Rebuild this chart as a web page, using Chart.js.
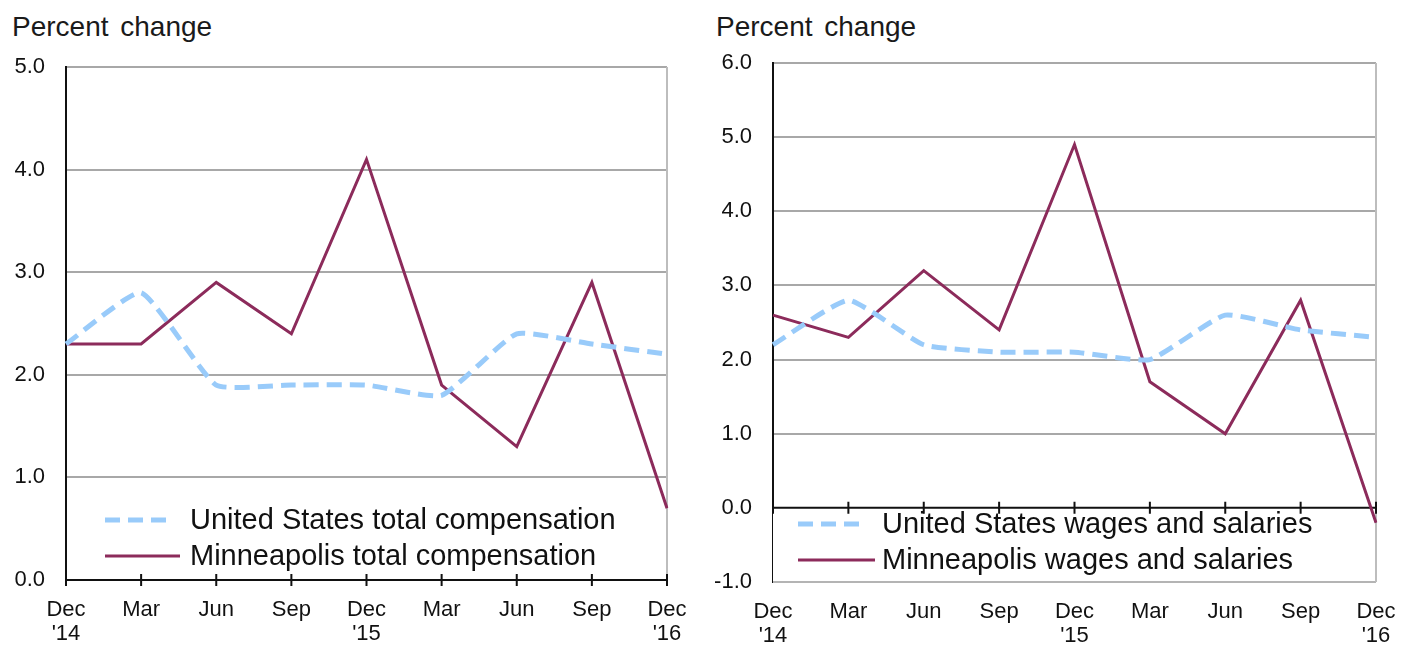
<!DOCTYPE html>
<html>
<head>
<meta charset="utf-8">
<script src="https://cdn.jsdelivr.net/npm/chart.js@4.4.0/dist/chart.umd.min.js"></script>
<style>
  body { margin: 0; background: #fff; width: 1403px; height: 645px; overflow: hidden; position: relative;
         font-family: "Liberation Sans", Arial, sans-serif; }
  .unit { position: absolute; top: 13px; font-size: 28px; line-height: 28px; word-spacing: 4px; color: #1a1a1a; white-space: nowrap; }
  .box { position: absolute; top: 0; height: 645px; }
</style>
</head>
<body>
<div class="unit" style="left:12px">Percent change</div>
<div class="unit" style="left:716px">Percent change</div>
<div class="box" style="left:0;width:700px"><canvas id="leftChart"></canvas></div>
<div class="box" style="left:700px;width:703px"><canvas id="rightChart"></canvas></div>

<script>
  // quarters, Dec 2014 - Dec 2016
  const categories = [['Dec', "'14"], 'Mar', 'Jun', 'Sep', ['Dec', "'15"], 'Mar', 'Jun', 'Sep', ['Dec', "'16"]];

  // 12-month percent change, total compensation
  const usTotalComp = [2.3, 2.8, 1.9, 1.9, 1.9, 1.8, 2.4, 2.3, 2.2];
  const mplsTotalComp = [2.3, 2.3, 2.9, 2.4, 4.1, 1.9, 1.3, 2.9, 0.7];

  // 12-month percent change, wages and salaries
  const usWages = [2.2, 2.8, 2.2, 2.1, 2.1, 2.0, 2.6, 2.4, 2.3];
  const mplsWages = [2.6, 2.3, 3.2, 2.4, 4.9, 1.7, 1.0, 2.8, -0.2];

  const leftTicks = [0, 1, 2, 3, 4, 5];
  const rightTicks = [-1, 0, 1, 2, 3, 4, 5, 6];

  const leftNames = ['United States total compensation', 'Minneapolis total compensation'];
  const rightNames = ['United States wages and salaries', 'Minneapolis wages and salaries'];

  const FONT = '"Liberation Sans", Arial, sans-serif';
  const US_BLUE = '#99cbfa';
  const MPLS_RED = '#8c2b5b';

  // black axis line at value 0 with tick marks crossing it, plus the grey right edge
  const zeroAxis = {
    id: 'zeroAxis',
    beforeDatasetsDraw(chart, args, opts) {
      const ctx = chart.ctx;
      const area = chart.chartArea;
      const x = chart.scales.x, y = chart.scales.y;
      const y0 = y.getPixelForValue(0);
      ctx.save();

      // optional legend box below the zero line
      if (opts.legendBox) {
        ctx.fillStyle = '#fff';
        ctx.fillRect(area.left, y0, area.right - area.left, area.bottom - y0);
        ctx.strokeStyle = '#b4b4b4';
        ctx.lineWidth = 2;
        ctx.beginPath();
        ctx.moveTo(area.left, area.bottom);
        ctx.lineTo(area.right, area.bottom);
        ctx.stroke();
      }

      // right frame
      ctx.strokeStyle = '#bdbdbd';
      ctx.lineWidth = 2;
      ctx.beginPath();
      ctx.moveTo(area.right, area.top);
      ctx.lineTo(area.right, area.bottom);
      ctx.stroke();

      ctx.strokeStyle = '#111';
      ctx.lineWidth = 2;
      ctx.beginPath();
      ctx.moveTo(area.left, y0);
      ctx.lineTo(area.right, y0);
      for (let i = 0; i < categories.length; i++) {
        const px = x.getPixelForValue(i);
        ctx.moveTo(px, y0 - 6);
        ctx.lineTo(px, y0 + 6);
      }
      ctx.stroke();

      // legend
      const lg = opts.legend;
      ctx.font = '29px ' + FONT;
      ctx.textBaseline = 'middle';
      ctx.fillStyle = '#111';
      chart.data.datasets.forEach((ds, i) => {
        const ly = lg.y + i * lg.gap;
        ctx.strokeStyle = ds.borderColor;
        ctx.lineWidth = ds.borderWidth;
        ctx.setLineDash(ds.borderDash || []);
        ctx.beginPath();
        ctx.moveTo(lg.x, ly);
        ctx.lineTo(lg.x + lg.len[i], ly);
        ctx.stroke();
        ctx.setLineDash([]);
        ctx.fillText(ds.label, lg.textX, ly + 1);
      });
      ctx.restore();
    }
  };

  function makeChart(id, names, usData, mplsData, ticks, dims, legendOpts, legendBox) {
    return new Chart(document.getElementById(id), {
      type: 'line',
      data: {
        labels: categories,
        datasets: [{
          label: names[0],
          data: usData,
          borderColor: US_BLUE,
          borderWidth: 5,
          borderDash: [15, 8],
          tension: 0.15,
          pointRadius: 0,
          fill: false
        }, {
          label: names[1],
          data: mplsData,
          borderColor: MPLS_RED,
          borderWidth: 3,
          tension: 0,
          pointRadius: 0,
          fill: false
        }]
      },
      options: {
        responsive: true,
        maintainAspectRatio: false,
        animation: false,
        layout: { padding: { left: 0, right: dims.right, top: dims.top, bottom: 0 } },
        plugins: {
          legend: { display: false },
          tooltip: { enabled: false },
          zeroAxis: { legend: legendOpts, legendBox: legendBox }
        },
        scales: {
          x: {
            offset: false,
            grid: { display: false, drawTicks: false },
            border: { display: false },
            ticks: {
              color: '#111',
              font: { family: FONT, size: 22, lineHeight: 1.1 },
              padding: 18,
              maxRotation: 0,
              autoSkip: false
            },
            afterFit(scale) {
              scale.height = dims.xHeight;
              // labels at the ends may overhang, the layout padding covers it
              scale.paddingLeft = 0;
              scale.paddingRight = 0;
            }
          },
          y: {
            min: ticks[0],
            max: ticks[ticks.length - 1],
            afterBuildTicks(scale) { scale.ticks = ticks.map(v => ({ value: v })); },
            grid: { color: '#a8a8a8', lineWidth: 2, drawTicks: false },
            border: { color: '#111', width: 2 },
            ticks: {
              color: '#111',
              font: { family: FONT, size: 22 },
              padding: 21,
              callback: v => v.toFixed(1)
            },
            afterFit(scale) { scale.width = dims.yWidth; }
          }
        }
      },
      plugins: [zeroAxis]
    });
  }

  makeChart('leftChart', leftNames, usTotalComp, mplsTotalComp, leftTicks,
    { right: 33, top: 67, xHeight: 65, yWidth: 66 },
    { x: 105, textX: 190, y: 520, gap: 36, len: [62, 75] }, false);

  makeChart('rightChart', rightNames, usWages, mplsWages, rightTicks,
    { right: 27, top: 63, xHeight: 63, yWidth: 73 },
    { x: 98, textX: 182, y: 524, gap: 36, len: [62, 77] }, true);
</script>
</body>
</html>
